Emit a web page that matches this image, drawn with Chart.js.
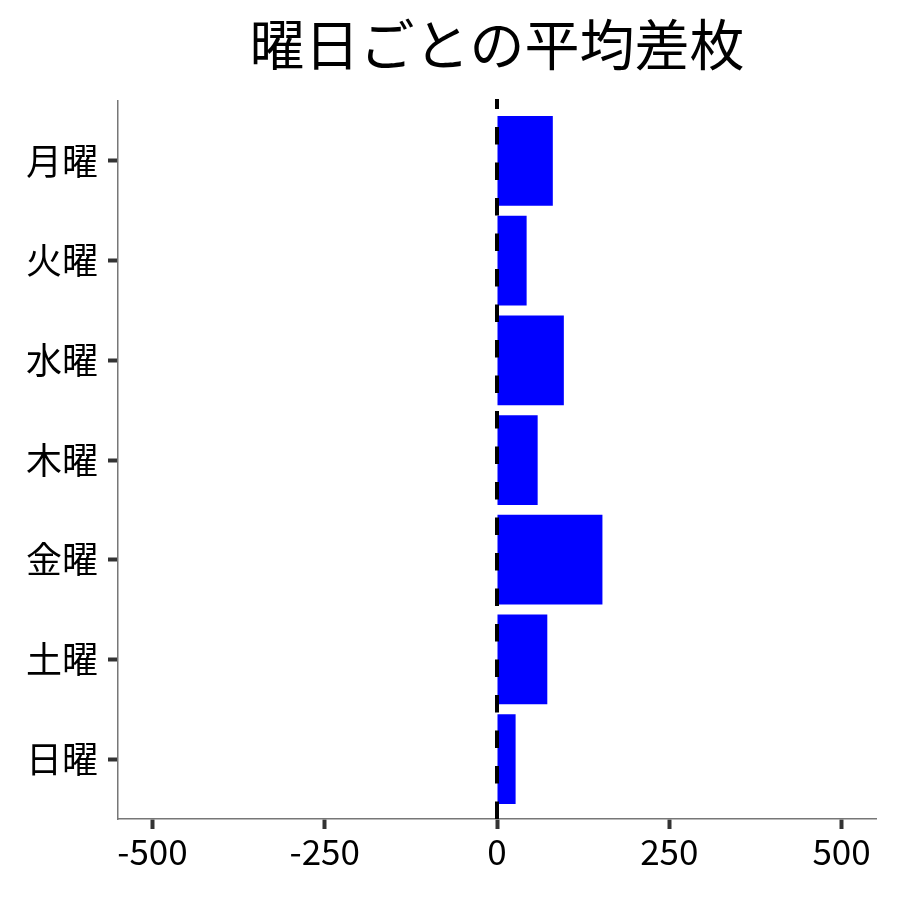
<!DOCTYPE html>
<html>
<head>
<meta charset="utf-8">
<script src="https://cdn.jsdelivr.net/npm/chart.js@4/dist/chart.umd.min.js"></script>
<style>
  html, body { margin: 0; padding: 0; background: #fff; }
  #wrap { width: 900px; height: 900px; }
</style>
</head>
<body>
<div id="wrap"><canvas id="myChart" width="900" height="900"></canvas></div>
<script>
// 曜日ごとの平均差枚
const days = ['月曜', '火曜', '水曜', '木曜', '金曜', '土曜', '日曜']
const avgDiff = [81, 43, 97, 59, 153, 73, 27]
const xTicks = [-500, -250, 0, 250, 500]

const font = '"Noto Sans CJK JP", "Noto Sans", sans-serif'

// dashed line at zero, drawn on top of the bars
const zeroLine = {
  id: 'zeroLine',
  afterDatasetsDraw(chart) {
    const ctx = chart.ctx
    const area = chart.chartArea
    const x = chart.scales.x.getPixelForValue(0)
    ctx.save()
    ctx.strokeStyle = '#000'
    ctx.lineWidth = 4
    ctx.setLineDash([17.5, 18])
    ctx.beginPath()
    ctx.moveTo(x, area.bottom)
    ctx.lineTo(x, area.top - 2)
    ctx.stroke()
    ctx.restore()
  }
}

var ctx = document.getElementById('myChart')
var myChart = new Chart(ctx, {
  type: 'bar',
  data: {
    datasets: [
      {
        data: days.map((d, i) => ({ x: avgDiff[i], y: i + 1 })),
        backgroundColor: '#0000ff',
        barPercentage: 0.9,
        categoryPercentage: 1
      }
    ]
  },
  options: {
    indexAxis: 'y',
    responsive: false,
    animation: false,
    devicePixelRatio: 1,
    layout: { padding: { left: 0, right: 24, top: 0, bottom: 0 } },
    plugins: {
      legend: { display: false },
      tooltip: { enabled: false },
      title: {
        display: true,
        fullSize: false,
        text: '曜日ごとの平均差枚',
        color: '#000',
        font: { family: font, size: 55, weight: 'normal' },
        padding: { top: 11, bottom: 24 }
      }
    },
    scales: {
      x: {
        type: 'linear',
        min: -550,
        max: 550,
        afterBuildTicks: s => { s.ticks = xTicks.map(v => ({ value: v })) },
        afterFit: s => { s.height = 81 },
        ticks: {
          color: '#000',
          font: { family: font, size: 35 },
          padding: 2,
          maxRotation: 0
        },
        grid: {
          drawOnChartArea: false,
          drawTicks: true,
          tickLength: 10,
          tickWidth: 4,
          tickColor: '#333'
        },
        border: { color: '#777', width: 1.5 }
      },
      y: {
        type: 'linear',
        reverse: true,
        offset: false,
        min: 0.4,
        max: 7.6,
        afterBuildTicks: s => { s.ticks = days.map((d, i) => ({ value: i + 1 })) },
        afterFit: s => { s.width = 118 },
        ticks: {
          color: '#000',
          font: { family: font, size: 36 },
          padding: 10,
          callback: v => days[v - 1]
        },
        grid: {
          offset: false,
          drawOnChartArea: false,
          drawTicks: true,
          tickLength: 10,
          tickWidth: 4,
          tickColor: '#333'
        },
        border: { color: '#777', width: 1.5 }
      }
    }
  },
  plugins: [zeroLine]
})
</script>
</body>
</html>
